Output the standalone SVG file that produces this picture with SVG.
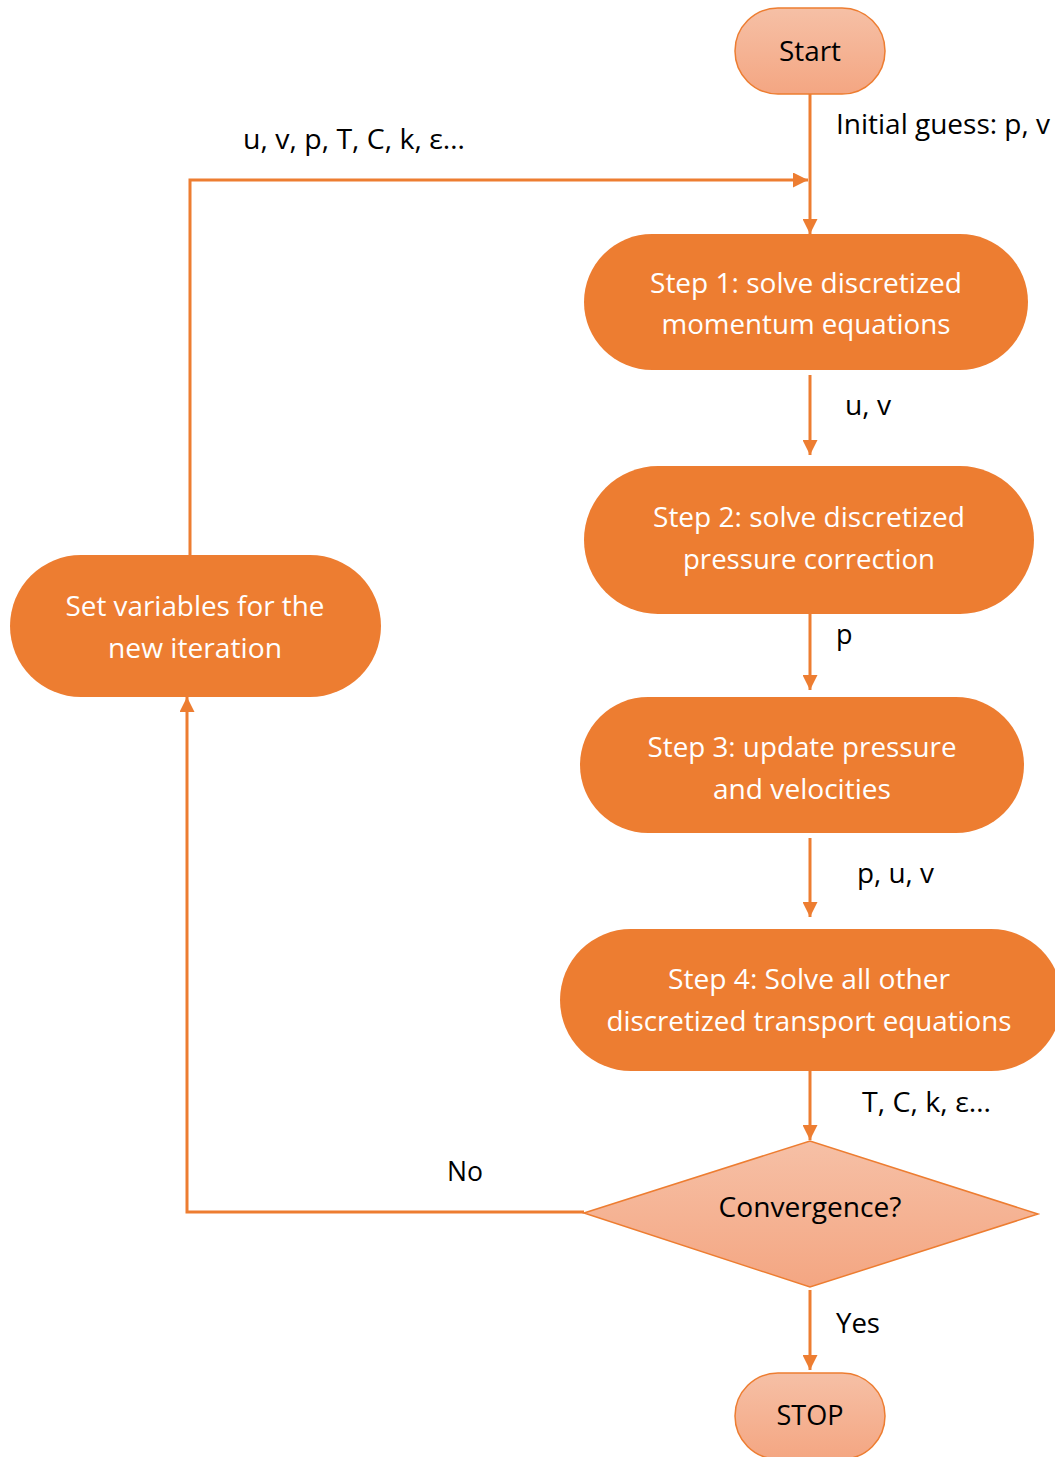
<svg xmlns="http://www.w3.org/2000/svg" width="1055" height="1457" viewBox="0 0 1055 1457">
  <style>
    .proc { fill: #ED7D31; }
    .term { fill: url(#salmon); stroke: #ED7D31; stroke-width: 1.5; }
    .wt { fill: #FFFFFF; font-family: "Open Sans", "Noto Sans", sans-serif; font-size: 27px; text-anchor: middle; }
    .bt { fill: #000000; font-family: "Open Sans", "Noto Sans", sans-serif; font-size: 27px; }
    .mid { text-anchor: middle; }
    .edge { fill: none; stroke: #ED7D31; stroke-width: 3; marker-end: url(#arrow); }
  </style>
  <defs>
    <linearGradient id="salmon" x1="0" y1="0" x2="0" y2="1">
      <stop offset="0" stop-color="#F6C0A6"/>
      <stop offset="1" stop-color="#F4A682"/>
    </linearGradient>
    <marker id="arrow" viewBox="0 0 10 10" refX="10" refY="5" markerWidth="5" markerHeight="5" orient="auto" markerUnits="strokeWidth">
      <path d="M0,0 L10,5 L0,10 Z" fill="#ED7D31"/>
    </marker>
  </defs>

  <!-- connectors -->
  <g id="connectors">
    <path class="edge" d="M810,94 V234"/>
    <path class="edge" d="M190,555 V180 H808"/>
    <path class="edge" d="M810,375 V455"/>
    <path class="edge" d="M810,614 V690"/>
    <path class="edge" d="M810,838 V917"/>
    <path class="edge" d="M810,1071 V1140"/>
    <path class="edge" d="M810,1290 V1370"/>
    <path class="edge" d="M584,1212 H187 V697"/>
    <text class="bt" x="836" y="134" textLength="214" lengthAdjust="spacingAndGlyphs">Initial guess: p, v</text>
    <text class="bt" x="243" y="149" textLength="222" lengthAdjust="spacingAndGlyphs">u, v, p, T, C, k, ε…</text>
    <text class="bt" x="845" y="415" textLength="46" lengthAdjust="spacingAndGlyphs">u, v</text>
    <text class="bt" x="836" y="644">p</text>
    <text class="bt" x="857" y="883" textLength="77" lengthAdjust="spacingAndGlyphs">p, u, v</text>
    <text class="bt" x="862" y="1112" textLength="129" lengthAdjust="spacingAndGlyphs">T, C, k, ε…</text>
    <text class="bt" x="447" y="1181" textLength="36" lengthAdjust="spacingAndGlyphs">No</text>
    <text class="bt" x="836" y="1333" textLength="44" lengthAdjust="spacingAndGlyphs">Yes</text>
  </g>

  <g id="start">
    <rect class="term" x="735" y="8" width="150" height="86" rx="43"/>
    <text class="bt mid" x="810" y="61" textLength="62" lengthAdjust="spacingAndGlyphs">Start</text>
  </g>

  <g id="step1">
    <rect class="proc" x="584" y="234" width="444" height="136" rx="68"/>
    <text class="wt" x="806" y="293" textLength="312" lengthAdjust="spacingAndGlyphs">Step 1: solve discretized</text>
    <text class="wt" x="806" y="334" textLength="289" lengthAdjust="spacingAndGlyphs">momentum equations</text>
  </g>

  <g id="step2">
    <rect class="proc" x="584" y="466" width="450" height="148" rx="74"/>
    <text class="wt" x="809" y="527" textLength="312" lengthAdjust="spacingAndGlyphs">Step 2: solve discretized</text>
    <text class="wt" x="809" y="569" textLength="252" lengthAdjust="spacingAndGlyphs">pressure correction</text>
  </g>

  <g id="step3">
    <rect class="proc" x="580" y="697" width="444" height="136" rx="68"/>
    <text class="wt" x="802" y="757" textLength="309" lengthAdjust="spacingAndGlyphs">Step 3: update pressure</text>
    <text class="wt" x="802" y="799" textLength="178" lengthAdjust="spacingAndGlyphs">and velocities</text>
  </g>

  <g id="step4">
    <rect class="proc" x="560" y="929" width="502" height="142" rx="71"/>
    <text class="wt" x="809" y="989" textLength="282" lengthAdjust="spacingAndGlyphs">Step 4: Solve all other</text>
    <text class="wt" x="809" y="1031" textLength="405" lengthAdjust="spacingAndGlyphs">discretized transport equations</text>
  </g>

  <g id="convergence">
    <polygon class="term" points="584,1213 810,1141 1038,1214 810,1287"/>
    <text class="bt mid" x="810" y="1217" textLength="183" lengthAdjust="spacingAndGlyphs">Convergence?</text>
  </g>

  <g id="stop">
    <rect class="term" x="735" y="1373" width="150" height="86" rx="43"/>
    <text class="bt mid" x="810" y="1425" textLength="67" lengthAdjust="spacingAndGlyphs">STOP</text>
  </g>

  <g id="new-iteration">
    <rect class="proc" x="10" y="555" width="371" height="142" rx="71"/>
    <text class="wt" x="195" y="616" textLength="259" lengthAdjust="spacingAndGlyphs">Set variables for the</text>
    <text class="wt" x="195" y="658" textLength="174" lengthAdjust="spacingAndGlyphs">new iteration</text>
  </g>
</svg>
